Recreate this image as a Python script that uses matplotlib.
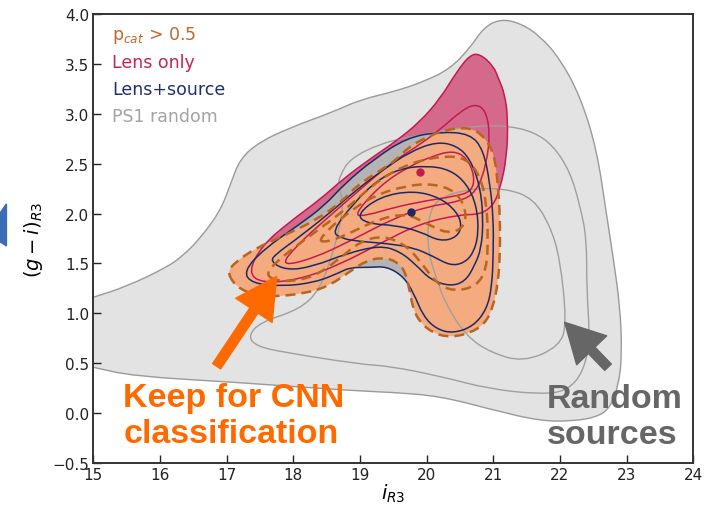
import numpy as np
import matplotlib
matplotlib.use("Agg")
from matplotlib import pyplot as plt
from matplotlib.path import Path
from matplotlib.patches import PathPatch, Polygon

# contour outlines in (i_R3, (g-i)_R3) coordinates
gray_outer = [(14.7, 1.10), (15.0, 1.16), (15.5, 1.27), (16.1, 1.46), (16.35, 1.58), (16.6, 1.75),
              (16.9, 2.02), (17.05, 2.28), (17.2, 2.55), (17.5, 2.72), (17.95, 2.86), (18.6, 3.02),
              (19.0, 3.14), (19.5, 3.22), (19.95, 3.32), (20.35, 3.45), (20.65, 3.66), (20.85, 3.86),
              (21.1, 3.95), (21.4, 3.91), (21.7, 3.78), (22.0, 3.55), (22.3, 3.18), (22.55, 2.65),
              (22.7, 1.98), (22.8, 1.55), (22.9, 1.07), (22.93, 0.6), (22.88, 0.28), (22.75, 0.05),
              (22.55, -0.04), (22.2, -0.08), (21.7, -0.08), (20.95, 0.04), (20.2, 0.17), (19.45, 0.21),
              (19.0, 0.22), (17.1, 0.31), (15.6, 0.37), (15.0, 0.46), (14.7, 0.50)]
gray_mid = [(18.7, 2.38), (18.85, 2.55), (19.3, 2.70), (19.7, 2.76), (20.2, 2.83), (20.8, 2.88),
            (21.2, 2.88), (21.6, 2.82), (21.9, 2.68), (22.15, 2.42), (22.3, 2.08), (22.4, 1.75),
            (22.4, 1.24), (22.45, 0.74), (22.35, 0.41), (22.1, 0.22), (21.7, 0.19), (20.95, 0.24),
            (20.2, 0.37), (19.45, 0.47), (19.0, 0.49), (17.85, 0.61), (17.45, 0.67), (17.32, 0.77),
            (17.5, 0.91), (18.1, 1.04), (18.4, 1.24), (18.6, 1.62), (18.7, 1.88), (18.75, 2.12),
            (18.67, 2.28)]
gray_inner = [(20.15, 2.15), (20.65, 2.25), (21.2, 2.25), (21.6, 2.15), (21.85, 1.88), (22.0, 1.55),
              (22.1, 0.91), (22.0, 0.67), (21.45, 0.51), (20.95, 0.61), (20.6, 0.77), (20.3, 1.07),
              (20.15, 1.34), (20.02, 1.62), (20.02, 1.95)]

lens_1 = [(17.32, 1.41), (17.53, 1.68), (17.95, 1.92), (18.4, 2.14), (18.77, 2.36), (19.2, 2.57),
          (19.55, 2.73), (19.9, 2.92), (20.2, 3.15), (20.45, 3.42), (20.65, 3.59), (20.8, 3.60),
          (21.0, 3.48), (21.08, 3.35), (21.17, 3.2), (21.22, 2.95), (21.2, 2.55), (21.1, 2.25),
          (21.0, 2.08), (20.8, 1.99), (20.5, 1.99), (19.9, 1.9), (19.3, 1.70), (18.7, 1.49),
          (18.1, 1.34), (17.53, 1.30)]
lens_2 = [(17.8, 1.47), (18.3, 1.55), (18.9, 1.74), (19.5, 1.95), (20.0, 2.07), (20.5, 2.12),
          (20.75, 2.22), (20.9, 2.5), (20.95, 2.82), (20.88, 3.04), (20.72, 3.1), (20.5, 3.02),
          (20.2, 2.84), (19.85, 2.67), (19.45, 2.5), (19.0, 2.24), (18.5, 1.95), (18.05, 1.68)]
lens_3 = [(18.9, 1.98), (19.3, 2.28), (19.7, 2.46), (20.1, 2.58), (20.4, 2.63), (20.6, 2.56),
          (20.72, 2.38), (20.68, 2.22), (20.4, 2.17), (20.0, 2.13), (19.5, 2.06), (19.1, 1.98)]

both_1 = [(17.25, 1.42), (17.57, 1.65), (18.07, 1.88), (18.47, 2.08), (18.77, 2.3), (19.2, 2.54),
          (19.7, 2.76), (20.2, 2.82), (20.65, 2.8), (20.85, 2.64), (20.95, 2.3), (21.0, 1.95),
          (21.0, 1.62), (20.98, 1.27), (20.9, 1.04), (20.7, 0.87), (20.4, 0.8), (20.15, 0.84),
          (19.95, 0.97), (19.8, 1.21), (19.65, 1.37), (19.4, 1.47), (19.15, 1.46), (18.85, 1.46),
          (18.7, 1.41), (18.33, 1.31), (17.83, 1.27), (17.38, 1.30)]
both_2 = [(17.65, 1.52), (17.9, 1.43), (18.3, 1.47), (18.8, 1.6), (19.3, 1.68), (19.6, 1.62),
          (19.85, 1.48), (20.05, 1.34), (20.35, 1.27), (20.58, 1.32), (20.72, 1.48), (20.82, 1.65),
          (20.85, 1.95), (20.8, 2.28), (20.65, 2.55), (20.45, 2.68), (20.15, 2.72), (19.75, 2.62),
          (19.35, 2.44), (18.95, 2.24), (18.5, 1.98), (18.0, 1.72), (17.75, 1.6)]
both_3 = [(18.58, 1.82), (18.9, 2.1), (19.25, 2.33), (19.6, 2.45), (20.0, 2.48), (20.35, 2.44),
          (20.6, 2.3), (20.75, 2.08), (20.78, 1.8), (20.7, 1.6), (20.55, 1.5), (20.35, 1.48),
          (20.1, 1.57), (19.8, 1.66), (19.4, 1.7), (19.0, 1.72), (18.72, 1.75)]
both_4 = [(18.95, 1.99), (19.3, 2.17), (19.8, 2.23), (20.2, 2.16), (20.45, 2.02), (20.53, 1.88),
          (20.45, 1.76), (20.2, 1.72), (19.9, 1.82), (19.55, 1.88), (19.1, 1.9)]

pcat_1 = [(17.0, 1.40), (17.12, 1.51), (17.43, 1.65), (17.83, 1.77), (18.33, 1.93), (18.73, 2.12),
          (18.95, 2.28), (19.3, 2.43), (19.55, 2.54), (19.75, 2.68), (20.2, 2.83), (20.65, 2.87),
          (20.88, 2.76), (21.02, 2.58), (21.07, 2.28), (21.1, 1.98), (21.1, 1.58), (21.07, 1.31),
          (21.0, 1.07), (20.88, 0.9), (20.65, 0.8), (20.35, 0.76), (20.1, 0.8), (19.9, 0.91),
          (19.8, 1.04), (19.75, 1.21), (19.68, 1.42), (19.55, 1.52), (19.35, 1.56), (19.1, 1.53),
          (18.85, 1.42), (18.55, 1.28), (18.2, 1.2), (17.6, 1.16), (17.2, 1.23)]
pcat_2 = [(17.55, 1.38), (17.85, 1.58), (18.3, 1.8), (18.8, 2.05), (19.3, 2.35), (19.8, 2.52),
          (20.3, 2.58), (20.6, 2.55), (20.8, 2.38), (20.9, 2.1), (20.92, 1.75), (20.9, 1.45),
          (20.75, 1.27), (20.4, 1.22), (20.15, 1.3), (19.95, 1.48), (19.7, 1.68), (19.35, 1.78),
          (19.0, 1.72), (18.7, 1.55), (18.3, 1.36), (17.85, 1.31)]
pcat_3 = [(18.35, 1.72), (18.7, 1.95), (19.2, 2.18), (19.7, 2.28), (20.1, 2.3), (20.45, 2.22),
          (20.6, 2.02), (20.55, 1.85), (20.3, 1.8), (20.0, 1.9), (19.7, 2.0), (19.3, 1.95),
          (18.9, 1.82), (18.55, 1.72)]

lens_peak = (19.90, 2.42)
both_peak = (19.77, 2.02)

legend_labels = ['p$_{cat}$ > 0.5', 'Lens only', 'Lens+source', 'PS1 random']
legend_colors = ['#c0692a', '#c2245a', '#1f2f6e', '#a3a3a3']

c_red = '#c41a50'
c_blue = '#1b2a66'
c_orange = '#b8651f'


def smooth_path(pts):
    # closed quadratic-bezier outline through the midpoints of the polygon
    pts = np.asarray(pts, float)
    mids = (pts + np.roll(pts, -1, axis=0)) / 2
    verts = [mids[-1]]
    codes = [Path.MOVETO]
    for p, m in zip(pts, mids):
        verts += [p, m]
        codes += [Path.CURVE3, Path.CURVE3]
    return Path(verts, codes)


def shape(ax, pts, fc='none', ec='none', lw=1.0, ls='-', z=1):
    ax.add_patch(PathPatch(smooth_path(pts), facecolor=fc, edgecolor=ec, lw=lw, ls=ls, zorder=z))


fig = plt.figure(figsize=(7.15, 5.06), dpi=100)
ax = fig.add_axes([0.1305, 0.083, 0.8392, 0.8874])

# filled regions
shape(ax, gray_outer, fc='#e3e3e3', ec='#9a9a9a', lw=1.0, z=1)
shape(ax, lens_1, fc='#d5698b', z=2)
shape(ax, both_1, fc='#b4b4b4', z=3)
shape(ax, pcat_1, fc='#f5ab80', z=4)

# contour lines
for g in (gray_mid, gray_inner):
    shape(ax, g, ec='#9f9f9f', lw=1.0, z=5)
for r in (lens_1, lens_2, lens_3):
    shape(ax, r, ec=c_red, lw=1.1, z=6)
for b in (both_1, both_2, both_3, both_4):
    shape(ax, b, ec=c_blue, lw=1.1, z=7)
for o in (pcat_1, pcat_2, pcat_3):
    shape(ax, o, ec=c_orange, lw=1.8, ls=(0, (4, 2.4)), z=8)

ax.plot(*lens_peak, 'o', color=c_red, ms=5, zorder=9)
ax.plot(*both_peak, 'o', color=c_blue, ms=5, zorder=9)

ax.set_xlim(15, 24)
ax.set_ylim(-0.5, 4.0)
ax.set_xticks(np.arange(15, 25, 1))
ax.set_yticks(np.arange(-0.5, 4.01, 0.5))
ax.set_yticklabels(['%.1f' % v if v >= 0 else '\u2212%.1f' % -v for v in np.arange(-0.5, 4.01, 0.5)])
ax.tick_params(direction='in', length=6, width=1, top=False, right=False,
               labelsize=11, pad=3, colors='#222222')
for s in ax.spines.values():
    s.set_linewidth(1.4)
    s.set_color('#333333')
ax.set_xlabel('$i_{R3}$', fontsize=14, labelpad=0)
ax.set_ylabel('$(g-i)_{R3}$', fontsize=14, labelpad=5)

for k, (lab, col) in enumerate(zip(legend_labels, legend_colors)):
    ax.text(15.28, 3.79 - 0.27 * k, lab, color=col, fontsize=12.5, va='center', ha='left', zorder=10)

# annotations
ax.annotate('', xy=(17.75, 1.37), xytext=(16.85, 0.47),
            arrowprops=dict(arrowstyle='simple,head_length=1.4,head_width=1.5,tail_width=0.33',
                            color='#ff6a00', mutation_scale=21, shrinkA=0, shrinkB=0), zorder=11)
ax.annotate('', xy=(22.07, 0.91), xytext=(22.72, 0.46),
            arrowprops=dict(arrowstyle='simple,head_length=1.4,head_width=1.5,tail_width=0.33',
                            color='#666666', mutation_scale=20, shrinkA=0, shrinkB=0), zorder=11)
ax.text(15.45, -0.02, 'Keep for CNN\nclassification', color='#ff6a00', fontsize=24.5,
        fontweight='bold', family='Liberation Sans', va='center', ha='left', linespacing=1.2, zorder=11)
ax.text(21.80, -0.03, 'Random\nsources', color='#666666', fontsize=24.5,
        fontweight='bold', family='Liberation Sans', va='center', ha='left', linespacing=1.2, zorder=11)

# sliver of the neighbouring graphic at the left edge
fig.add_artist(Polygon([(0, 0.577), (0.009, 0.595), (0.009, 0.512), (0, 0.520)],
                       closed=True, transform=fig.transFigure, color='#3b6cb5'))

fig.savefig('out.png', dpi=100)
